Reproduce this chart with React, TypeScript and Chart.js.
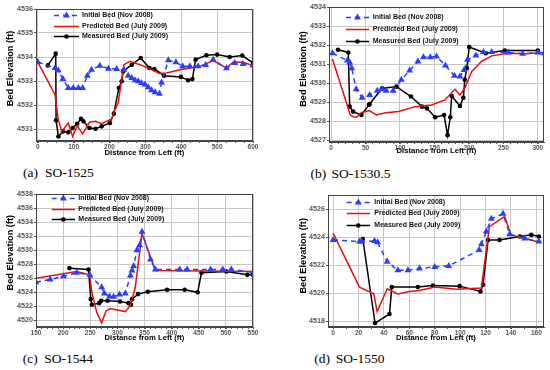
import React, { useEffect, useRef } from "react";
import { Chart, registerables } from "chart.js";
Chart.register(...registerables);

// ---------- Panel (a) SO-1525 ----------
const aXTicks = [0, 100, 200, 300, 400, 500, 600];
const aYTicks = [4531, 4532, 4533, 4534, 4535, 4536];
const aInitialX = [0, 48, 57, 70, 85, 99, 113, 125, 138, 150, 173, 197, 220, 240, 252, 262, 271, 280, 289, 299, 308, 317, 327, 339, 345, 364, 385, 404, 424, 447, 468, 489, 526, 549, 572, 600];
const aInitialY = [4533.79, 4533.54, 4533.44, 4533.08, 4532.71, 4532.71, 4532.71, 4532.71, 4533.22, 4533.47, 4533.64, 4533.51, 4533.5, 4533.47, 4533.22, 4533.13, 4533.03, 4532.99, 4532.92, 4532.85, 4532.74, 4532.61, 4532.53, 4532.47, 4532.94, 4533.86, 4533.78, 4533.61, 4533.61, 4533.61, 4533.67, 4533.89, 4533.53, 4533.75, 4533.71, 4533.65];
const aPredX = [0, 48, 57, 67, 85, 97, 110, 125, 144, 161, 178, 206, 215, 224, 240, 257, 285, 308, 339, 359, 396, 452, 489, 526, 545, 572, 600];
const aPredY = [4533.79, 4532.43, 4531.4, 4530.9, 4531.25, 4530.69, 4531.14, 4530.8, 4531.28, 4531.32, 4531.22, 4531.42, 4531.81, 4532.08, 4533.68, 4533.82, 4533.68, 4533.54, 4533.31, 4533.33, 4533.47, 4533.61, 4533.85, 4533.54, 4533.79, 4533.78, 4533.64];
const aMeasX = [28, 50, 51, 57.5, 70, 85, 97, 110, 120.6, 127, 144, 161, 178, 201, 212, 226, 234, 238, 262, 287, 311, 325, 352, 399, 419, 431, 440, 470, 500, 535, 570, 600];
const aMeasY = [4533.65, 4534.14, 4531.36, 4530.69, 4530.9, 4530.86, 4531.04, 4531.22, 4531.43, 4531.32, 4531.04, 4531.01, 4531.11, 4531.25, 4531.64, 4532.71, 4532.99, 4533.4, 4533.68, 4533.96, 4533.54, 4533.5, 4533.22, 4533.17, 4533.03, 4533.08, 4533.89, 4534.07, 4534.1, 4534.0, 4534.06, 4533.75];

// ---------- Panel (b) SO-1530.5 ----------
const bXTicks = [0, 50, 100, 150, 200, 250, 300];
const bYTicks = [4527, 4528, 4529, 4530, 4531, 4532, 4533, 4534];
const bInitialX = [2, 23.6, 27, 30, 36.5, 45, 56, 67, 74, 80, 90, 102, 114, 126, 134, 144, 153, 166, 179, 187, 193, 198, 210, 221, 233, 257, 278, 300, 309];
const bInitialY = [4531.57, 4531.19, 4531.08, 4530.78, 4529.67, 4529.23, 4529.37, 4529.6, 4529.67, 4529.6, 4529.6, 4530.17, 4530.66, 4531.13, 4531.36, 4531.36, 4531.4, 4530.92, 4530.38, 4530.34, 4530.69, 4531.22, 4531.45, 4531.63, 4531.63, 4531.61, 4531.54, 4531.61, 4531.57];
const bPredX = [2, 28, 32, 37, 44, 55, 66, 79, 98, 122, 146, 165, 180, 187, 194, 204, 218, 233, 257, 281, 309];
const bPredY = [4531.26, 4528.32, 4528.23, 4528.2, 4528.44, 4528.55, 4528.32, 4528.44, 4528.5, 4528.76, 4528.85, 4529.11, 4529.67, 4529.37, 4529.73, 4530.6, 4531.13, 4531.43, 4531.57, 4531.54, 4531.61];
const bMeasX = [10, 25, 27, 32, 44, 55, 56, 74, 95, 116, 132, 139, 151, 164, 169, 173, 175, 187, 192, 194, 197, 200.5, 224.5, 252, 300];
const bMeasY = [4531.75, 4531.61, 4528.76, 4528.5, 4528.32, 4528.85, 4528.9, 4529.73, 4529.81, 4529.29, 4528.76, 4528.67, 4528.2, 4528.32, 4527.26, 4528.2, 4529.32, 4528.79, 4529.23, 4530.17, 4530.78, 4531.89, 4531.57, 4531.71, 4531.71];

// ---------- Panel (c) SO-1544 ----------
const cXTicks = [150, 200, 250, 300, 350, 400, 450, 500, 550];
const cYTicks = [4520, 4522, 4524, 4526, 4528, 4530, 4532, 4534, 4536, 4538];
const cInitialX = [150, 176, 200.5, 225, 249, 271, 276, 285.6, 293, 304, 314.6, 324, 327, 330, 336, 341, 345.4, 361, 370, 415, 428.6, 471.7, 494.5, 510, 550];
const cInitialY = [4525.39, 4525.78, 4526.26, 4526.74, 4526.45, 4524.67, 4523.8, 4523.37, 4523.32, 4523.66, 4523.8, 4526.35, 4527.08, 4527.7, 4529.96, 4530.69, 4532.6, 4528.66, 4527.22, 4527.22, 4527.22, 4527.22, 4527.22, 4527.22, 4526.8];
const cPredX = [150, 225, 249, 253, 262, 271, 279, 287, 314.6, 324, 333, 345.4, 370, 550];
const cPredY = [4525.97, 4526.93, 4526.45, 4523.95, 4521.06, 4519.6, 4521.3, 4521.64, 4521.2, 4522.1, 4524.67, 4532.37, 4527.08, 4526.93];
const cMeasX = [211.6, 246.8, 251, 253, 266.5, 270, 282, 305, 320.7, 325, 327, 338, 356, 391.6, 424, 448, 455, 501, 539.5, 550];
const cMeasY = [4527.41, 4527.22, 4522.98, 4522.17, 4522.41, 4522.75, 4522.75, 4522.65, 4522.41, 4522.17, 4522.98, 4523.7, 4524.04, 4524.33, 4524.33, 4523.95, 4526.74, 4526.93, 4526.45, 4526.45];

// ---------- Panel (d) SO-1550 ----------
const dXTicks = [0, 20, 40, 60, 80, 100, 120, 140, 160];
const dYTicks = [4518, 4520, 4522, 4524, 4526];
const dInitialX = [0, 20.8, 22.6, 32.6, 35, 42.6, 51, 58.9, 68, 80, 91, 115, 116.7, 120.6, 124.5, 133.7, 139, 150.8, 162];
const dInitialY = [4523.8, 4523.68, 4523.68, 4523.72, 4523.63, 4522.24, 4521.64, 4521.64, 4521.76, 4521.88, 4521.95, 4523.08, 4523.49, 4524.4, 4525.3, 4525.66, 4524.2, 4523.9, 4523.68];
const dPredX = [0, 20.8, 32, 34.7, 42.6, 51, 60, 68, 80, 97, 116.7, 123, 135, 140, 150.8, 162];
const dPredY = [4524.28, 4520.44, 4519.96, 4518.7, 4520.32, 4519.96, 4520.13, 4520.2, 4520.44, 4520.28, 4520.37, 4524.75, 4525.47, 4524.16, 4523.92, 4523.63];
const dMeasX = [23.4, 33, 44.4, 46.2, 66.7, 78.6, 99.6, 116, 118, 122, 131, 147, 156, 162];
const dMeasY = [4523.87, 4517.88, 4518.53, 4520.44, 4520.44, 4520.56, 4520.51, 4520.13, 4520.6, 4523.8, 4523.8, 4524.04, 4524.16, 4524.04];

const seriesLabels = ["Initial Bed (Nov 2008)", "Predicted Bed (July 2009)", "Measured Bed (July 2009)"];
const xTitle = "Distance from Left (ft)";
const yTitle = "Bed Elevation (ft)";

const BLUE = "#2b3dff";
const RED = "#e41010";
const BLACK = "#000000";
const SANS = '"Liberation Sans", Arial, Helvetica, sans-serif';
const SERIF = '"Liberation Serif", "Times New Roman", serif';

const pts = (xs: number[], ys: number[]) => xs.map((x, i) => ({ x, y: ys[i] }));

const framePlugin = {
  id: "frame",
  afterDraw(chart: any) {
    const { ctx, chartArea: a } = chart;
    ctx.save();
    ctx.strokeStyle = "#444";
    ctx.lineWidth = 1;
    ctx.strokeRect(Math.round(a.left) + 0.5, Math.round(a.top) + 0.5, Math.round(a.right - a.left) - 1, Math.round(a.bottom - a.top) - 1);
    ctx.restore();
  },
};

const yTitlePlugin = {
  id: "yTitle",
  afterDraw(chart: any, _args: any, opts: any) {
    const { ctx } = chart;
    ctx.save();
    ctx.translate(opts.x, opts.y);
    ctx.rotate(-Math.PI / 2);
    ctx.fillStyle = "#000";
    ctx.font = `bold 9.2px ${SANS}`;
    ctx.textAlign = "center";
    ctx.textBaseline = "middle";
    ctx.fillText(opts.text, 0, 0);
    ctx.restore();
  },
};

const minorTickPlugin = {
  id: "minorTicks",
  afterDraw(chart: any, _args: any, opts: any) {
    const { ctx, chartArea: a } = chart;
    const xs = chart.scales.x;
    const step = opts.step;
    if (!step) return;
    ctx.save();
    ctx.strokeStyle = "#555";
    ctx.lineWidth = 1;
    ctx.beginPath();
    const start = Math.ceil(xs.min / step) * step;
    for (let v = start; v <= xs.max + 1e-9; v += step) {
      const px = Math.round(xs.getPixelForValue(v)) + 0.5;
      ctx.moveTo(px, a.bottom);
      ctx.lineTo(px, a.bottom + 2);
    }
    ctx.stroke();
    ctx.restore();
  },
};

const insideLegendPlugin = {
  id: "insideLegend",
  afterDraw(chart: any, _args: any, opts: any) {
    const { ctx, chartArea: a } = chart;
    chart.data.datasets.forEach((ds: any, i: number) => {
      const y = Math.round(a.top + opts.dy + i * opts.gap) + 0.5;
      const x0 = a.left + opts.x0;
      const x1 = a.left + opts.x1;
      ctx.save();
      ctx.strokeStyle = ds.borderColor;
      ctx.lineWidth = ds.borderWidth;
      ctx.setLineDash(ds.borderDash || []);
      ctx.beginPath();
      ctx.moveTo(x0, y);
      ctx.lineTo(x1, y);
      ctx.stroke();
      ctx.setLineDash([]);
      const cx = (x0 + x1) / 2;
      if (ds.pointRadius > 0) {
        ctx.fillStyle = ds.pointBackgroundColor;
        ctx.beginPath();
        if (ds.pointStyle === "triangle") {
          const r = ds.pointRadius;
          let rad = 0;
          ctx.moveTo(cx + Math.sin(rad) * r, y - Math.cos(rad) * r);
          rad += (2 * Math.PI) / 3;
          ctx.lineTo(cx + Math.sin(rad) * r, y - Math.cos(rad) * r);
          rad += (2 * Math.PI) / 3;
          ctx.lineTo(cx + Math.sin(rad) * r, y - Math.cos(rad) * r);
          ctx.closePath();
        } else {
          ctx.arc(cx, y, ds.pointRadius, 0, Math.PI * 2);
        }
        ctx.fill();
      }
      ctx.fillStyle = "#111";
      ctx.font = `bold 7px ${SANS}`;
      ctx.textBaseline = "middle";
      ctx.textAlign = "left";
      ctx.fillText(ds.label, a.left + opts.tx, y);
      ctx.restore();
    });
  },
};

type PanelCfg = {
  left: number; top: number; w: number; h: number;
  yw: number; xh: number; pt: number; pr: number;
  xMin: number; xMax: number; xTicks: number[]; xMinor: number;
  yMin: number; yMax: number; yTicks: number[];
  yt: { x: number; y: number }; xtPad: number;
  legend: { dy: number; gap: number; x0: number; x1: number; tx: number };
  init: { x: number; y: number }[];
  pred: { x: number; y: number }[];
  meas: { x: number; y: number }[];
};

function Panel({ cfg }: { cfg: PanelCfg }) {
  const ref = useRef<HTMLCanvasElement>(null);
  useEffect(() => {
    const chart = new Chart(ref.current as HTMLCanvasElement, {
      type: "line",
      data: {
        datasets: [
          {
            label: seriesLabels[0], data: cfg.init, borderColor: BLUE, backgroundColor: BLUE,
            borderWidth: 1.5, borderDash: [5, 4], pointStyle: "triangle", pointRadius: 4,
            pointBackgroundColor: BLUE, pointBorderColor: BLUE, pointBorderWidth: 0, tension: 0,
          } as any,
          {
            label: seriesLabels[1], data: cfg.pred, borderColor: RED, backgroundColor: RED,
            borderWidth: 1.5, pointRadius: 0, tension: 0,
          } as any,
          {
            label: seriesLabels[2], data: cfg.meas, borderColor: BLACK, backgroundColor: BLACK,
            borderWidth: 1.5, pointStyle: "circle", pointRadius: 2.3, pointBackgroundColor: BLACK,
            pointBorderColor: BLACK, pointBorderWidth: 0, tension: 0,
          } as any,
        ],
      },
      options: {
        animation: false,
        responsive: false,
        maintainAspectRatio: false,
        layout: { padding: { left: 0, top: cfg.pt, right: cfg.pr, bottom: 0 } },
        plugins: {
          legend: { display: false },
          tooltip: { enabled: false },
          insideLegend: cfg.legend,
          minorTicks: { step: cfg.xMinor },
          yTitle: { text: yTitle, x: cfg.yt.x, y: cfg.yt.y },
        } as any,
        scales: {
          x: {
            type: "linear", min: cfg.xMin, max: cfg.xMax,
            afterBuildTicks: (s: any) => { s.ticks = cfg.xTicks.map((v) => ({ value: v })); },
            ticks: {
              autoSkip: false, maxRotation: 0,
              callback: (v: any) => String(v),
              font: { size: 6.5, weight: "bold", family: SANS }, color: "#555", padding: 0,
            },
            grid: { color: "#c6c6c6", tickLength: 2, tickColor: "#555" },
            border: { color: "#444" },
            title: {
              display: true, text: xTitle, color: "#000",
              font: { size: 7.7, weight: "bold", family: SANS },
              padding: { top: 0, bottom: cfg.xtPad },
            },
            afterFit: (s: any) => { s.height = cfg.xh; },
          } as any,
          y: {
            type: "linear", min: cfg.yMin, max: cfg.yMax,
            afterBuildTicks: (s: any) => { s.ticks = cfg.yTicks.map((v) => ({ value: v })); },
            ticks: {
              autoSkip: false,
              callback: (v: any) => String(v),
              font: { size: 7.2, weight: "bold", family: SANS }, color: "#555", padding: 1,
            },
            grid: { color: "#c6c6c6", tickLength: 2, tickColor: "#555" },
            border: { color: "#444" },
            title: { display: false },
            afterFit: (s: any) => { s.width = cfg.yw; },
          } as any,
        },
      },
      plugins: [framePlugin, minorTickPlugin, insideLegendPlugin, yTitlePlugin],
    });
    return () => chart.destroy();
  }, []);
  return (
    <canvas
      ref={ref}
      width={cfg.w}
      height={cfg.h}
      style={{ position: "absolute", left: cfg.left, top: cfg.top, width: cfg.w, height: cfg.h }}
    />
  );
}

const panels: PanelCfg[] = [
  {
    left: 0, top: 0, w: 262, h: 162, yw: 36, xh: 21, pt: 9, pr: 9,
    xMin: -5, xMax: 600, xTicks: aXTicks, xMinor: 25, yMin: 4530.5, yMax: 4536, yTicks: aYTicks,
    yt: { x: 10, y: 68.5 }, xtPad: 4.4,
    legend: { dy: 5.7, gap: 10.8, x0: 18, x1: 43, tx: 46 },
    init: pts(aInitialX, aInitialY), pred: pts(aPredX, aPredY), meas: pts(aMeasX, aMeasY),
  },
  {
    left: 275, top: 0, w: 275, h: 162, yw: 54, xh: 20, pt: 7, pr: 6,
    xMin: -3, xMax: 309, xTicks: bXTicks, xMinor: 10, yMin: 4526.9, yMax: 4534, yTicks: bYTicks,
    yt: { x: 28, y: 69 }, xtPad: 6.7,
    legend: { dy: 10.3, gap: 11.7, x0: 17, x1: 40, tx: 43.7 },
    init: pts(bInitialX, bInitialY), pred: pts(bPredX, bPredY), meas: pts(bMeasX, bMeasY),
  },
  {
    left: 0, top: 185, w: 262, h: 162, yw: 36, xh: 20, pt: 9, pr: 9,
    xMin: 150, xMax: 550, xTicks: cXTicks, xMinor: 10, yMin: 4519, yMax: 4538, yTicks: cYTicks,
    yt: { x: 10, y: 67.7 }, xtPad: 4.4,
    legend: { dy: 4.3, gap: 10.4, x0: 15.7, x1: 39, tx: 42.3 },
    init: pts(cInitialX, cInitialY), pred: pts(cPredX, cPredY), meas: pts(cMeasX, cMeasY),
  },
  {
    left: 275, top: 185, w: 275, h: 162, yw: 53, xh: 20, pt: 10, pr: 6,
    xMin: -4, xMax: 166, xTicks: dXTicks, xMinor: 10, yMin: 4517.6, yMax: 4527, yTicks: dYTicks,
    yt: { x: 28, y: 70.8 }, xtPad: 4.4,
    legend: { dy: 6.7, gap: 11.7, x0: 18.7, x1: 42, tx: 46.3 },
    init: pts(dInitialX, dInitialY), pred: pts(dPredX, dPredY), meas: pts(dMeasX, dMeasY),
  },
];

const captions = [
  { tag: "(a)", name: "SO-1525", x1: 23, x2: 45, top: 166 },
  { tag: "(b)", name: "SO-1530.5", x1: 310.5, x2: 331.5, top: 166.5 },
  { tag: "(c)", name: "SO-1544", x1: 22.7, x2: 44.3, top: 352 },
  { tag: "(d)", name: "SO-1550", x1: 314.3, x2: 335.7, top: 352 },
];

export default function App() {
  const capStyle: React.CSSProperties = {
    position: "absolute", fontFamily: SERIF, fontSize: 13.5, lineHeight: 1, color: "#000", whiteSpace: "nowrap",
  };
  return (
    <div style={{ position: "fixed", left: 0, top: 0, width: 550, height: 370, background: "#fff", overflow: "hidden" }}>
      {panels.map((p, i) => <Panel key={i} cfg={p} />)}
      {captions.map((c, i) => (
        <React.Fragment key={i}>
          <div style={{ ...capStyle, left: c.x1, top: c.top }}>{c.tag}</div>
          <div style={{ ...capStyle, left: c.x2, top: c.top }}>{c.name}</div>
        </React.Fragment>
      ))}
    </div>
  );
}
